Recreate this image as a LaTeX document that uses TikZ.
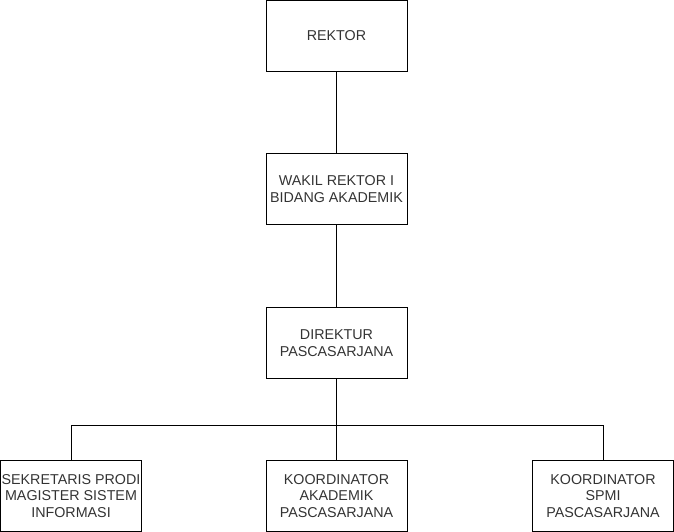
\documentclass[tikz,border=0pt]{standalone}
\usepackage{fontspec}
\setmainfont{Liberation Sans}
\begin{document}
\begin{tikzpicture}[x=1pt,y=-1pt,
  orgbox/.style={draw=black, line width=1pt, minimum width=141pt, minimum height=71pt,
    inner sep=0pt, align=center, font=\fontsize{14.3}{16.6}\selectfont, text=black!80},
  link/.style={draw=black, line width=1pt}]
\useasboundingbox (0,0) rectangle (674,532);
\node[orgbox] (rektor) at (336.5,36) {REKTOR};
\node[orgbox] (wakil) at (336.5,189) {WAKIL REKTOR I\\BIDANG AKADEMIK};
\node[orgbox] (dir) at (336.5,343) {DIREKTUR\\PASCASARJANA};
\node[orgbox] (sek) at (71,496) {SEKRETARIS PRODI\\MAGISTER SISTEM\\INFORMASI};
\node[orgbox] (akad) at (336.5,496) {KOORDINATOR\\AKADEMIK\\PASCASARJANA};
\node[orgbox] (spmi) at (603,496) {KOORDINATOR\\SPMI\\PASCASARJANA};
\coordinate (mid) at (336.5,425);
\draw[link] (rektor) -- (wakil);
\draw[link] (wakil) -- (dir);
\draw[link] (dir) -- (akad);
\draw[link] (mid) -| (sek);
\draw[link] (mid) -| (spmi);
\end{tikzpicture}
\end{document}
